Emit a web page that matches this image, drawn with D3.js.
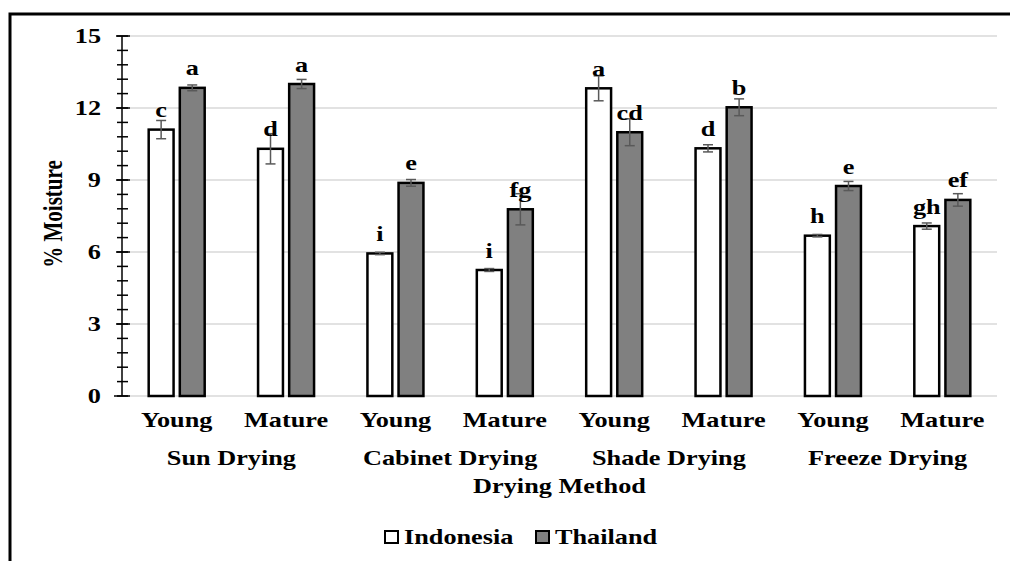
<!DOCTYPE html>
<html>
<head>
<meta charset="utf-8">
<script src="https://cdn.jsdelivr.net/npm/d3@7"></script>
<style>
  body { margin: 0; background: #fff; }
  text { font-family: "Liberation Serif", "Times New Roman", serif; font-weight: bold; fill: #000; }
</style>
</head>
<body>
<div id="chart"></div>
<script>
// categories
const stages = ["Young", "Mature", "Young", "Mature", "Young", "Mature", "Young", "Mature"];
const methods = ["Sun Drying", "Cabinet Drying", "Shade Drying", "Freeze Drying"];
const series = ["Indonesia", "Thailand"];

// values (% moisture) and standard errors
const indonesia = [11.1, 10.3, 5.94, 5.25, 12.82, 10.32, 6.68, 7.08];
const thailand = [12.84, 13.0, 8.88, 7.78, 10.99, 12.03, 8.75, 8.17];
const indonesiaErr = [0.38, 0.63, 0.05, 0.06, 0.52, 0.15, 0.05, 0.13];
const thailandErr = [0.12, 0.19, 0.14, 0.65, 0.56, 0.35, 0.19, 0.26];

// significance letters
const indonesiaLetters = ["c", "d", "i", "i", "a", "d", "h", "gh"];
const thailandLetters = ["a", "a", "e", "fg", "cd", "b", "e", "ef"];

const yTicks = [0, 3, 6, 9, 12, 15];

const W = 1010, H = 561;
const sx = 1.25; // the reference is stretched sideways
const fs = "21px";

const svg = d3.select("#chart").append("svg")
  .attr("width", W)
  .attr("height", H);

// frame
svg.append("path")
  .attr("d", "M10,561 V14 H1010")
  .attr("fill", "none")
  .attr("stroke", "#000")
  .attr("stroke-width", 3);

const plot = { left: 122, right: 997, top: 36, bottom: 396 };

const x = d3.scaleBand()
  .domain(d3.range(stages.length))
  .range([plot.left, plot.right]);

const y = d3.scaleLinear()
  .domain([0, 15])
  .range([plot.bottom, plot.top]);

const sub = d3.scaleBand()
  .domain(series)
  .range([-28, 28])
  .paddingInner(0.2);

// gridlines
svg.append("g")
  .selectAll("line")
  .data(yTicks)
  .join("line")
  .attr("x1", plot.left + 8)
  .attr("x2", plot.right)
  .attr("y1", d => y(d))
  .attr("y2", d => y(d))
  .attr("stroke", "#d9d9d9")
  .attr("stroke-width", 1.5);

// y axis with major and minor ticks
const yAxisG = svg.append("g")
  .attr("transform", "translate(" + plot.left + ",0)");

yAxisG.append("line")
  .attr("y1", y(0)).attr("y2", y(15))
  .attr("stroke", "#000").attr("stroke-width", 1.5);

yAxisG.selectAll(".minor")
  .data(d3.range(0, 15.001, 0.6))
  .join("line")
  .attr("class", "minor")
  .attr("x1", -5).attr("x2", 6)
  .attr("y1", d => y(d)).attr("y2", d => y(d))
  .attr("stroke", "#000").attr("stroke-width", 1.5);

yAxisG.selectAll(".major")
  .data(yTicks)
  .join("line")
  .attr("class", "major")
  .attr("x1", d => d === 0 ? -8 : -6).attr("x2", 8)
  .attr("y1", d => y(d)).attr("y2", d => y(d))
  .attr("stroke", "#000").attr("stroke-width", 1.5);

yAxisG.selectAll(".tlabel")
  .data(yTicks)
  .join("text")
  .attr("class", "tlabel")
  .attr("transform", d => "translate(-21," + (y(d) + 7) + ") scale(" + sx + ",1)")
  .attr("text-anchor", "end")
  .style("font-size", fs)
  .text(d => d);

// y axis title
svg.append("text")
  .attr("transform", "translate(62,214) scale(" + sx + ",1) rotate(-90)")
  .attr("text-anchor", "middle")
  .style("font-size", fs)
  .text("% Moisture");

// bars
const rows = stages.map((s, i) => ({
  i: i,
  vals: [
    { key: "Indonesia", v: indonesia[i], e: indonesiaErr[i], l: indonesiaLetters[i] },
    { key: "Thailand", v: thailand[i], e: thailandErr[i], l: thailandLetters[i] }
  ]
}));

const fills = { Indonesia: "#ffffff", Thailand: "#808080" };

const groups = svg.append("g")
  .selectAll("g")
  .data(rows)
  .join("g")
  .attr("transform", d => "translate(" + (x(d.i) + x.bandwidth() / 2) + ",0)");

groups.selectAll("rect")
  .data(d => d.vals)
  .join("rect")
  .attr("x", d => sub(d.key))
  .attr("width", sub.bandwidth())
  .attr("y", d => y(d.v))
  .attr("height", d => y(0) - y(d.v))
  .attr("fill", d => fills[d.key])
  .attr("stroke", "#000")
  .attr("stroke-width", 2.5);

// error bars
const eb = groups.selectAll(".err")
  .data(d => d.vals)
  .join("g")
  .attr("class", "err")
  .attr("transform", d => "translate(" + (sub(d.key) + sub.bandwidth() / 2) + ",0)");

eb.append("line")
  .attr("y1", d => y(d.v - d.e)).attr("y2", d => y(d.v + d.e))
  .attr("stroke", "#595959").attr("stroke-width", 1.5);
eb.append("line")
  .attr("x1", -5).attr("x2", 5)
  .attr("y1", d => y(d.v + d.e)).attr("y2", d => y(d.v + d.e))
  .attr("stroke", "#595959").attr("stroke-width", 1.5);
eb.append("line")
  .attr("x1", -5).attr("x2", 5)
  .attr("y1", d => y(d.v - d.e)).attr("y2", d => y(d.v - d.e))
  .attr("stroke", "#595959").attr("stroke-width", 1.5);

// letters
eb.append("text")
  .attr("transform", d => "translate(0," + (y(d.v) - 12.5) + ") scale(" + sx + ",1)")
  .attr("text-anchor", "middle")
  .style("font-size", fs)
  .text(d => d.l);

// category labels
svg.append("g")
  .selectAll("text")
  .data(rows)
  .join("text")
  .attr("transform", d => "translate(" + (x(d.i) + x.bandwidth() / 2) + ",427) scale(" + sx + ",1)")
  .attr("text-anchor", "middle")
  .style("font-size", fs)
  .text(d => stages[d.i]);

// method labels
svg.append("g")
  .selectAll("text")
  .data(methods)
  .join("text")
  .attr("transform", (d, i) => "translate(" + x(i * 2 + 1) + ",465) scale(" + sx + ",1)")
  .attr("text-anchor", "middle")
  .style("font-size", fs)
  .text(d => d);

// x axis title
svg.append("text")
  .attr("transform", "translate(" + ((plot.left + plot.right) / 2) + ",493) scale(" + sx + ",1)")
  .attr("text-anchor", "middle")
  .style("font-size", fs)
  .text("Drying Method");

// legend
const legendX = [385, 536];
const legend = svg.append("g")
  .selectAll("g")
  .data(series)
  .join("g")
  .attr("transform", (d, i) => "translate(" + legendX[i] + ",531)");

legend.append("rect")
  .attr("width", 13).attr("height", 12)
  .attr("fill", d => fills[d])
  .attr("stroke", "#000")
  .attr("stroke-width", 2);

legend.append("text")
  .attr("transform", "translate(19,12.5) scale(" + sx + ",1)")
  .style("font-size", fs)
  .text(d => d);
</script>
</body>
</html>
